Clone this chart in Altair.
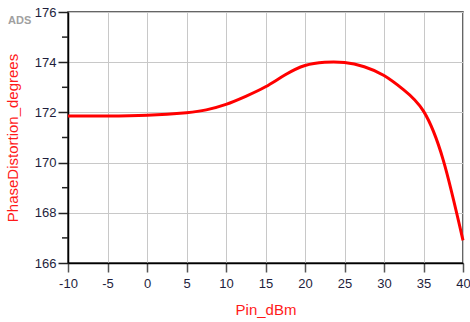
import altair as alt
import pandas as pd

pin_dbm = [-10, -5, 0, 5, 7.5, 10, 12.5, 15, 17.5, 20, 22.5, 25, 27.5, 30, 32.5, 35, 37.5, 40]
phase_deg = [171.86, 171.86, 171.89, 171.99, 172.10, 172.32, 172.64, 173.02, 173.50,
             173.87, 174.00, 173.99, 173.82, 173.47, 172.90, 172.05, 170.10, 166.90]

major_y = [166, 168, 170, 172, 174, 176]
minor_y = [167, 169, 171, 173, 175]
x_ticks = [-10, -5, 0, 5, 10, 15, 20, 25, 30, 35, 40]

df = pd.DataFrame({"Pin_dBm": pin_dbm, "PhaseDistortion_degrees": phase_deg})

FONT = "Liberation Sans"
LABEL_COLOR = "#1e1e3c"

xscale = alt.Scale(domain=[-10, 40], nice=False, zero=False)
yscale = alt.Scale(domain=[166, 176], nice=False, zero=False)

line = alt.Chart(df).mark_line(color="#ff0000", strokeWidth=3, interpolate="natural").encode(
    x=alt.X("Pin_dBm:Q", scale=xscale,
            axis=alt.Axis(values=x_ticks, title="Pin_dBm", titleColor="#ff1a1a",
                          titleFont=FONT, titleFontSize=15, titleFontWeight="normal",
                          titlePadding=12, labelFont=FONT, labelFontSize=13,
                          labelColor=LABEL_COLOR, labelPadding=5, tickSize=9,
                          labelFlush=False, labelExpr="toString(datum.value)",
                          tickColor="#555555", tickWidth=1.5, domainColor="#000000",
                          domainWidth=1.5, gridColor="#c8c8c8", gridWidth=1)),
    y=alt.Y("PhaseDistortion_degrees:Q", scale=yscale,
            axis=alt.Axis(values=major_y, title="PhaseDistortion_degrees",
                          titleColor="#ff1a1a", titleFont=FONT, titleFontSize=15,
                          titleFontWeight="normal", titlePadding=14, labelFont=FONT,
                          labelFontSize=13, labelColor=LABEL_COLOR, labelPadding=2,
                          tickSize=10, tickColor="#222222", tickWidth=1.5,
                          domainColor="#000000", domainWidth=1.5,
                          gridColor="#c8c8c8", gridWidth=1)),
)

minor_df = pd.DataFrame({"v": minor_y})
minor = alt.Chart(minor_df).mark_rule(color="#222222", strokeWidth=1.5, clip=False).encode(
    y=alt.Y("v:Q", scale=yscale),
    x=alt.value(-6),
    x2=alt.value(0),
)

ads = alt.Chart(pd.DataFrame({"t": ["ADS"]})).mark_text(
    font=FONT, fontSize=11, fontWeight="bold", color="#a0a0a0", align="left", baseline="middle"
).encode(text="t:N", x=alt.value(-60), y=alt.value(9))

chart = alt.layer(line, minor, ads).properties(
    width=395, height=251,
    autosize=alt.AutoSizeParams(type="none"),
    padding={"left": 68, "top": 12, "right": 7, "bottom": 59},
    background="#ffffff",
).configure_view(stroke="#333333", strokeWidth=1.5)

chart.save("out.html", embed_options={"renderer": "svg", "actions": False})
